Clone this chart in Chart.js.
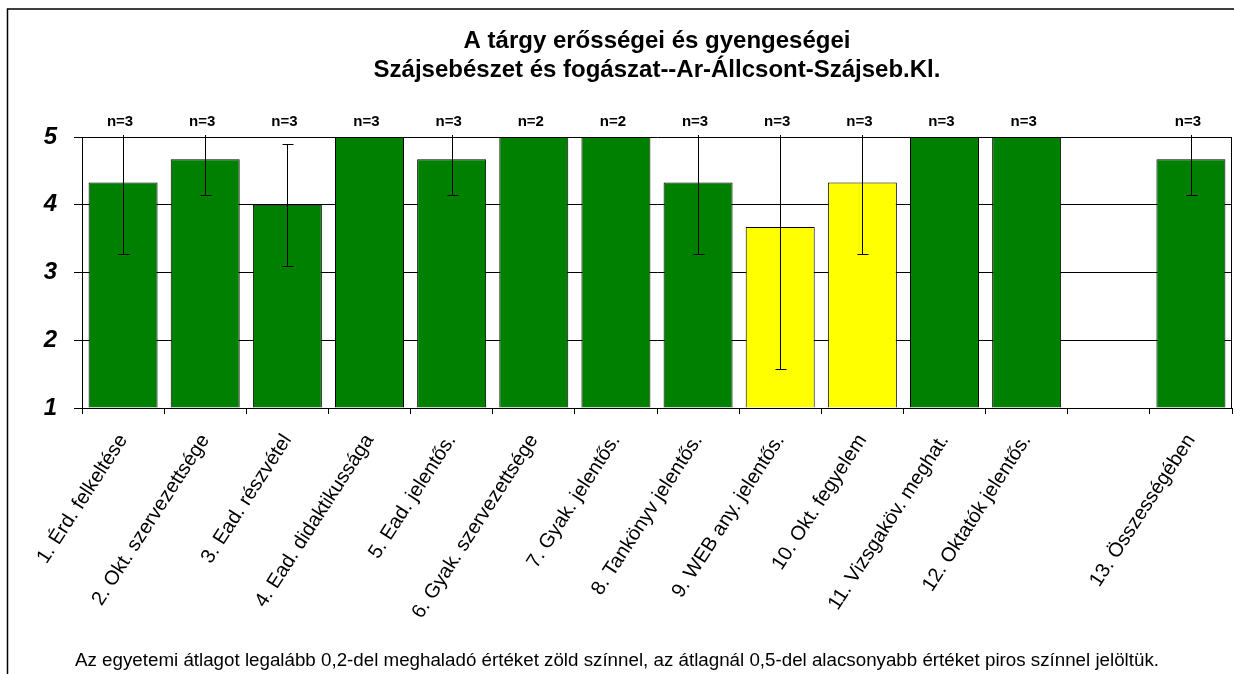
<!DOCTYPE html>
<html>
<head>
<meta charset="utf-8">
<script src="https://cdn.jsdelivr.net/npm/chart.js@4.4.1/dist/chart.umd.min.js"></script>
<style>
html,body{margin:0;padding:0;background:#fff;}
#wrap{width:1234px;height:674px;position:relative;}
</style>
</head>
<body>
<div id="wrap"><canvas id="c" width="1234" height="674"></canvas></div>
<script>
// ---- data ----
const categories = ['1. Érd. felkeltése', '2. Okt. szervezettsége', '3. Ead. részvétel', '4. Ead. didaktikussága', '5. Ead. jelentős.', '6. Gyak. szervezettsége', '7. Gyak. jelentős.', '8. Tankönyv jelentős.', '9. WEB any. jelentős.', '10. Okt. fegyelem', '11. Vizsgaköv. meghat.', '12. Oktatók jelentős.', '', '13. Összességében'];
const values = [4.33, 4.67, 4.0, 5, 4.67, 5, 5, 4.33, 3.67, 4.33, 5, 5, null, 4.67];
const deviations = [1.05, 0.53, 0.9, 0, 0.53, 0, 0, 1.05, 2.1, 1.05, 0, 0, null, 0.53];
const nLabels = ['n=3', 'n=3', 'n=3', 'n=3', 'n=3', 'n=2', 'n=2', 'n=3', 'n=3', 'n=3', 'n=3', 'n=3', '', 'n=3'];
const colorFlags = ['g', 'g', 'g', 'g', 'g', 'g', 'g', 'g', 'y', 'y', 'g', 'g', 'g', 'g'];
const yTicks = [1, 2, 3, 4, 5];
const titleLines = ['A tárgy erősségei és gyengeségei', 'Szájsebészet és fogászat--Ar-Állcsont-Szájseb.Kl.'];
const footerText = 'Az egyetemi átlagot legalább 0,2-del meghaladó értéket zöld színnel, az átlagnál 0,5-del alacsonyabb értéket piros színnel jelöltük.';

const FONT = '"Liberation Sans", Arial, sans-serif';
const palette = { g: '#008000', y: '#FFFF00' };

const decorPlugin = {
  id: 'decor',
  beforeDraw(chart) {
    const ctx = chart.ctx;
    ctx.save();
    ctx.fillStyle = '#fff';
    ctx.fillRect(0, 0, chart.width, chart.height);
    ctx.restore();
  },
  afterDatasetsDraw(chart) {
    const ctx = chart.ctx;
    const x = chart.scales.x, y = chart.scales.y;
    const ca = chart.chartArea;
    // error bars
    ctx.save();
    ctx.beginPath();
    ctx.rect(ca.left, ca.top - 2, ca.right - ca.left, ca.bottom - ca.top + 3);
    ctx.clip();
    ctx.strokeStyle = '#000';
    ctx.lineWidth = 1;
    values.forEach((v, i) => {
      const d = deviations[i];
      if (v == null || !d) return;
      const px = Math.round(x.getPixelForValue(i)) + 0.5;
      const hi = v + d, lo = v - d;
      const yHi = y.getPixelForValue(Math.min(hi, y.max));
      const yLo = Math.round(y.getPixelForValue(lo)) + 0.5;
      ctx.beginPath();
      ctx.moveTo(px, yLo);
      ctx.lineTo(px, hi > y.max ? ca.top - 2 : Math.round(yHi) + 0.5);
      ctx.stroke();
      ctx.beginPath();
      ctx.moveTo(px - 5, yLo); ctx.lineTo(px + 6, yLo);
      if (hi <= y.max) { const yy = Math.round(yHi) + 0.5; ctx.moveTo(px - 5, yy); ctx.lineTo(px + 6, yy); }
      ctx.stroke();
    });
    ctx.restore();
    // plot area right border
    ctx.save();
    ctx.strokeStyle = '#000';
    ctx.lineWidth = 1;
    ctx.beginPath();
    ctx.moveTo(Math.round(ca.right) - 0.5, ca.top);
    ctx.lineTo(Math.round(ca.right) - 0.5, ca.bottom);
    ctx.stroke();
    ctx.restore();
  },
  afterDraw(chart) {
    const ctx = chart.ctx;
    const x = chart.scales.x;
    const ca = chart.chartArea;
    ctx.save();
    // outer border
    ctx.strokeStyle = '#000';
    ctx.lineWidth = 1.5;
    ctx.strokeRect(7.5, 9, 1240, 700);
    // title
    ctx.fillStyle = '#000';
    ctx.textAlign = 'center';
    ctx.textBaseline = 'alphabetic';
    ctx.font = 'bold 24px ' + FONT;
    const cx = (ca.left + ca.right) / 2;
    ctx.fillText(titleLines[0], cx, 48);
    ctx.fillText(titleLines[1], cx, 77);
    // n labels
    ctx.font = 'bold 15px ' + FONT;
    ctx.textBaseline = 'middle';
    nLabels.forEach((t, i) => {
      if (!t) return;
      ctx.fillText(t, x.getPixelForValue(i) - 3, 122);
    });
    // footer
    ctx.textBaseline = 'alphabetic';
    ctx.font = '18.75px ' + FONT;
    ctx.fillText(footerText, chart.width / 2, 666);
    ctx.restore();
  }
};

new Chart(document.getElementById('c'), {
  type: 'bar',
  data: {
    labels: categories,
    datasets: [{
      data: values,
      base: 1,
      backgroundColor: colorFlags.map(c => palette[c]),
      borderColor: '#000',
      borderWidth: 1,
      barPercentage: 0.84,
      categoryPercentage: 1.0
    }]
  },
  options: {
    responsive: false,
    animation: false,
    layout: { padding: { left: 0, right: 2, top: 137, bottom: 0 } },
    plugins: { legend: { display: false }, title: { display: false }, tooltip: { enabled: false } },
    scales: {
      x: {
        afterFit(s) { s.height = 266; },
        grid: { display: true, drawOnChartArea: false, drawTicks: true, tickLength: 6, color: '#000', offset: true },
        border: { display: true, color: '#000', width: 1 },
        ticks: {
          autoSkip: false, maxRotation: 57, minRotation: 57, padding: 16,
          color: '#000', font: { family: FONT, size: 20 }
        }
      },
      y: {
        min: 1, max: 5,
        afterFit(s) { s.width = 82; },
        afterBuildTicks(s) { s.ticks = yTicks.map(v => ({ value: v })); },
        grid: { color: '#000', lineWidth: 1, tickLength: 8, drawTicks: true },
        border: { display: true, color: '#000', width: 1 },
        ticks: {
          padding: 17, color: '#000',
          font: { family: FONT, size: 24, weight: 'bold', style: 'italic' }
        }
      }
    }
  },
  plugins: [decorPlugin]
});
</script>
</body>
</html>
